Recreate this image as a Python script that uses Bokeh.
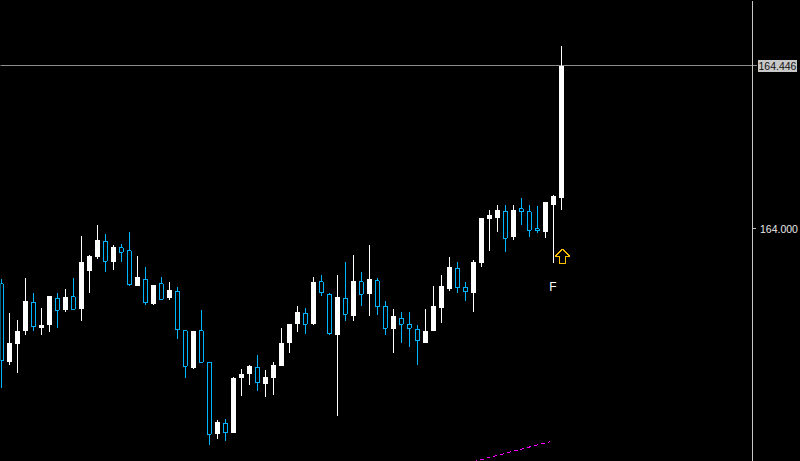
from bokeh.plotting import figure
from bokeh.embed import file_html
from bokeh.resources import INLINE
from bokeh.models import FixedTicker, Label, InlineStyleSheet, ColumnDataSource, LinearAxis
from bokeh.core.properties import value

opens = [163.850,163.635,163.684,163.720,163.800,163.728,163.736,163.811,163.777,163.814,163.782,163.886,163.922,163.967,163.911,163.948,163.940,163.845,163.863,163.796,163.850,163.810,163.830,163.721,163.621,163.721,163.636,163.438,163.469,163.443,163.591,163.602,163.622,163.575,163.591,163.624,163.687,
163.739,163.770,163.739,163.855,163.822,163.711,163.811,163.763,163.855,163.821,163.858,163.789,163.725,163.756,163.740,163.726,163.689,163.720,163.785,163.837,163.893,163.841,163.824,163.908,164.026,164.031,164.049,163.979,164.055,164.047,164.000,163.993,164.067,164.086]
highs = [163.862,163.769,163.752,163.867,163.826,163.785,163.818,163.826,163.837,163.867,163.982,163.930,164.010,163.985,163.955,163.958,163.993,163.925,163.895,163.848,163.870,163.856,163.840,163.722,163.722,163.777,163.637,163.476,163.481,163.596,163.618,163.627,163.654,163.613,163.637,163.728,163.741,163.788,163.785,163.870,163.873,163.826,163.873,163.911,163.930,163.881,163.955,163.867,163.804,163.780,163.772,163.772,163.736,163.780,163.845,163.873,163.922,163.911,163.856,163.914,164.029,164.053,164.067,164.067,164.067,164.086,164.067,164.062,164.073,164.094,164.502]
lows = [163.564,163.627,163.605,163.709,163.722,163.709,163.717,163.730,163.774,163.777,163.747,163.824,163.919,163.881,163.889,163.911,163.843,163.843,163.791,163.793,163.807,163.807,163.700,163.591,163.616,163.635,163.410,163.424,163.421,163.443,163.542,163.572,163.558,163.539,163.547,163.624,163.662,163.717,163.714,163.736,163.818,163.709,163.487,163.747,163.747,163.788,163.763,163.766,163.709,163.662,163.687,163.678,163.629,163.687,163.720,163.744,163.829,163.826,163.804,163.774,163.897,163.941,163.993,163.936,163.969,164.010,163.977,163.988,163.974,163.908,164.053]
closes = [163.639,163.687,163.720,163.802,163.732,163.736,163.818,163.778,163.815,163.781,163.911,163.925,163.969,163.912,163.952,163.937,163.847,163.870,163.798,163.848,163.808,163.832,163.724,163.625,163.722,163.636,163.439,163.473,163.442,163.591,163.602,163.624,163.579,163.596,163.629,163.687,163.741,163.774,163.740,163.854,163.825,163.713,163.813,163.767,163.859,163.822,163.862,163.787,163.729,163.761,163.740,163.729,163.694,163.722,163.788,163.843,163.895,163.839,163.828,163.911,164.029,164.037,164.051,163.975,164.053,164.047,163.997,163.995,164.073,164.089,164.447]

last_price = 164.446
tick_values = [164.000]
tick_labels = {164.000: "164.000"}
last_label = "164.446"
trend_x = [59, 68.6]
trend_y = [163.363, 163.418]
arrow_x, arrow_y = 70, 163.926
flag_x, flag_y, flag_char = [69], [163.840], ["F"]

idx = list(range(len(opens)))
up = [i for i in idx if closes[i] > opens[i]]
down = [i for i in idx if closes[i] <= opens[i]]
src = lambda ids: ColumnDataSource(dict(
    x=ids,
    o=[opens[i] for i in ids], c=[closes[i] for i in ids],
    h=[highs[i] for i in ids], l=[lows[i] for i in ids]))

BLUE = "#00b4ff"
p = figure(width=800, height=461, frame_width=800, frame_height=461,
           x_range=(-0.0625, 99.9375), y_range=(163.3638, 164.6252),
           x_axis_location=None, y_axis_location=None,
           output_backend="svg", toolbar_location=None,
           background_fill_color="black", border_fill_color="black",
           min_border=0)
p.outline_line_color = None
p.grid.visible = False
p.styles = {"position": "fixed", "left": "0px", "top": "0px", "background": "black"}
p.stylesheets = [InlineStyleSheet(css=":host{shape-rendering:crispEdges}")]

ax = LinearAxis(fixed_location=93.875, ticker=FixedTicker(ticks=tick_values),
                major_label_overrides=tick_labels)
ax.axis_line_color = "#c8c8c8"
ax.major_tick_line_color = "#c8c8c8"
ax.major_tick_in = 0
ax.major_tick_out = 3
ax.minor_tick_line_color = None
ax.major_label_standoff = 5
ax.major_label_text_color = "#e8e8e8"
ax.major_label_text_font = "Liberation Sans"
ax.major_label_text_font_size = "10.5px"
p.add_layout(ax, "right")

p.line([-1, 94.56], [last_price, last_price], line_color="#8c8c8c", line_width=1)

s_up, s_dn = src(up), src(down)
p.segment("x", "h", "x", "l", source=s_up, line_color="white", line_width=1)
p.vbar("x", 0.625, "c", "o", source=s_up, fill_color="white", line_color=None)
p.segment("x", "h", "x", "l", source=s_dn, line_color=BLUE, line_width=1)
p.vbar("x", 0.5, "o", "c", source=s_dn, fill_color="black", line_color=BLUE, line_width=1)

p.line(trend_x, trend_y, line_color="#ff00ff", line_width=1, line_dash="4 3")

PX, PY = 1 / 8, 0.446 / 163
shape_dx = [1.5, 8.5, 4.5, 4.5, -1.5, -1.5, -5.5]
shape_dy = [7, 0, 0, -7, -7, 0, 0]
p.patch([arrow_x + d * PX for d in shape_dx], [arrow_y + d * PY for d in shape_dy],
        fill_color="black", line_color="#ffc000", line_width=1)
p.text(flag_x, flag_y, text=flag_char, text_color="white", text_align="center",
       text_baseline="middle", text_font=value("Liberation Sans"), text_font_size="12px")

p.add_layout(Label(x=757, x_units="canvas", y=last_price, text=last_label,
                   text_color="#101010", text_font="Liberation Sans", text_font_size="10.5px",
                   text_baseline="middle", background_fill_color="#c8c8c8", padding=(1, 2)))

open("out.html", "w").write(file_html(p, INLINE))
